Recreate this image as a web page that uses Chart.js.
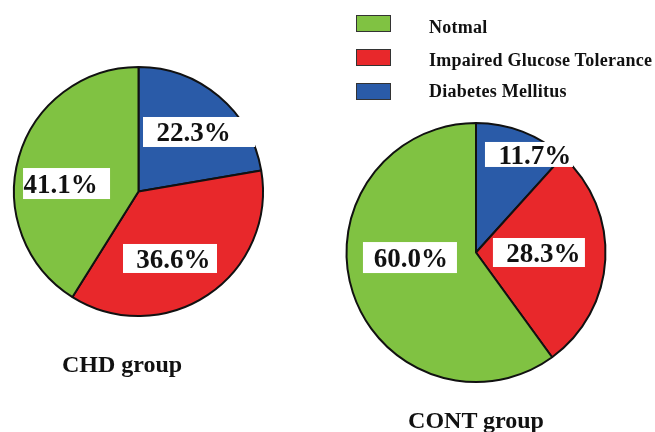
<!DOCTYPE html>
<html>
<head>
<meta charset="utf-8">
<script src="https://cdn.jsdelivr.net/npm/chart.js@4.4.1/dist/chart.umd.min.js"></script>
<style>
  html, body { margin: 0; padding: 0; background: #fff; }
  #wrap {
    position: relative; width: 655px; height: 432px; overflow: hidden;
    font-family: "Liberation Serif", "Times New Roman", serif; font-weight: bold; color: #111;
  }
  #wrap canvas { position: absolute; left: 0; top: 0; }
  .txt { position: absolute; white-space: nowrap; line-height: 1; }
  .sw { position: absolute; box-sizing: border-box; border: 1px solid #333; }
</style>
</head>
<body>
<div id="wrap">
  <canvas id="chd" width="655" height="432"></canvas>
  <canvas id="cont" width="655" height="432"></canvas>
</div>
<script>
// Glucose tolerance status, percent of each group
const categories = ['Notmal', 'Impaired Glucose Tolerance', 'Diabetes Mellitus'];
const chdValues = [41.1, 36.6, 22.3];
const contValues = [60.0, 28.3, 11.7];
const groupNames = ['CHD group', 'CONT group'];
const sliceColors = ['#80C242', '#E8282B', '#2A5BA8'];

// slices run clockwise from 12 o'clock: Diabetes, IGT, Normal
const sliceOrder = [2, 1, 0];

// value-label boxes: offset from pie centre as a fraction of radius, box size, text nudge
const chdLabelLayout = [
  { rel: [-0.578, -0.064], w: 87, h: 31, dx: -6 },
  { rel: [0.253, 0.538], w: 94, h: 29, dx: 3.5 },
  { rel: [0.486, -0.478], w: 112, h: 30, dx: -5.5 }
];
const contLabelLayout = [
  { rel: [-0.510, 0.039], w: 94, h: 31, dx: 1 },
  { rel: [0.486, 0.0], w: 92, h: 29, dx: 4.5 },
  { rel: [0.409, -0.757], w: 88, h: 25, dx: 6 }
];

const LABEL_FONT_SIZE = 27;

const valueBoxes = {
  id: 'valueBoxes',
  afterDatasetsDraw(chart, args, opts) {
    const ctx = chart.ctx;
    const meta = chart.getDatasetMeta(0);
    const ds = chart.data.datasets[0];
    ctx.save();
    ctx.font = 'bold ' + LABEL_FONT_SIZE + 'px "Liberation Serif", "Times New Roman", serif';
    ctx.textAlign = 'center';
    ctx.textBaseline = 'alphabetic';
    meta.data.forEach((arc, i) => {
      const cat = sliceOrder[i];
      const lay = opts.layout[cat];
      const r = arc.outerRadius;
      const cx = arc.x + lay.rel[0] * r;
      const cy = arc.y + lay.rel[1] * r;
      ctx.fillStyle = '#ffffff';
      ctx.fillRect(cx - lay.w / 2, cy - lay.h / 2, lay.w, lay.h);
      ctx.fillStyle = '#111111';
      ctx.fillText(ds.data[i].toFixed(1) + '%', cx + lay.dx, cy + 0.338 * LABEL_FONT_SIZE);
    });
    ctx.restore();
  }
};

function makePie(id, values, padding, layout) {
  return new Chart(document.getElementById(id), {
    type: 'pie',
    data: {
      labels: sliceOrder.map(k => categories[k]),
      datasets: [{
        data: sliceOrder.map(k => values[k]),
        backgroundColor: sliceOrder.map(k => sliceColors[k]),
        borderColor: '#111111',
        borderWidth: 2,
        borderAlign: 'center'
      }]
    },
    options: {
      responsive: false,
      animation: false,
      events: [],
      rotation: 0,
      layout: { padding },
      plugins: {
        legend: { display: false },
        tooltip: { enabled: false },
        valueBoxes: { layout }
      }
    },
    plugins: [valueBoxes]
  });
}

makePie('chd', chdValues, { left: 13, top: 66, right: 391, bottom: 115 }, chdLabelLayout);
makePie('cont', contValues, { left: 345.5, top: 122, right: 48.5, bottom: 49 }, contLabelLayout);

// legend and group captions
const wrap = document.getElementById('wrap');
function addText(str, left, top, size, centred, spacing) {
  const d = document.createElement('div');
  d.className = 'txt';
  d.textContent = str;
  d.style.fontSize = size + 'px';
  d.style.top = top + 'px';
  if (spacing) d.style.letterSpacing = spacing + 'px';
  if (centred) {
    d.style.left = (left - 200) + 'px';
    d.style.width = '400px';
    d.style.textAlign = 'center';
  } else {
    d.style.left = left + 'px';
  }
  wrap.appendChild(d);
}
const swatchTops = [15, 49, 83];
const legendTextTops = [18, 51, 82];
categories.forEach((name, k) => {
  const s = document.createElement('div');
  s.className = 'sw';
  s.style.left = '356px';
  s.style.top = swatchTops[k] + 'px';
  s.style.width = '35px';
  s.style.height = '17px';
  s.style.background = sliceColors[k];
  wrap.appendChild(s);
  addText(name, 429, legendTextTops[k], 18, false, 0.25);
});
addText(groupNames[0], 122, 352, 24, true);
addText(groupNames[1], 476, 408, 24, true);
</script>
</body>
</html>
